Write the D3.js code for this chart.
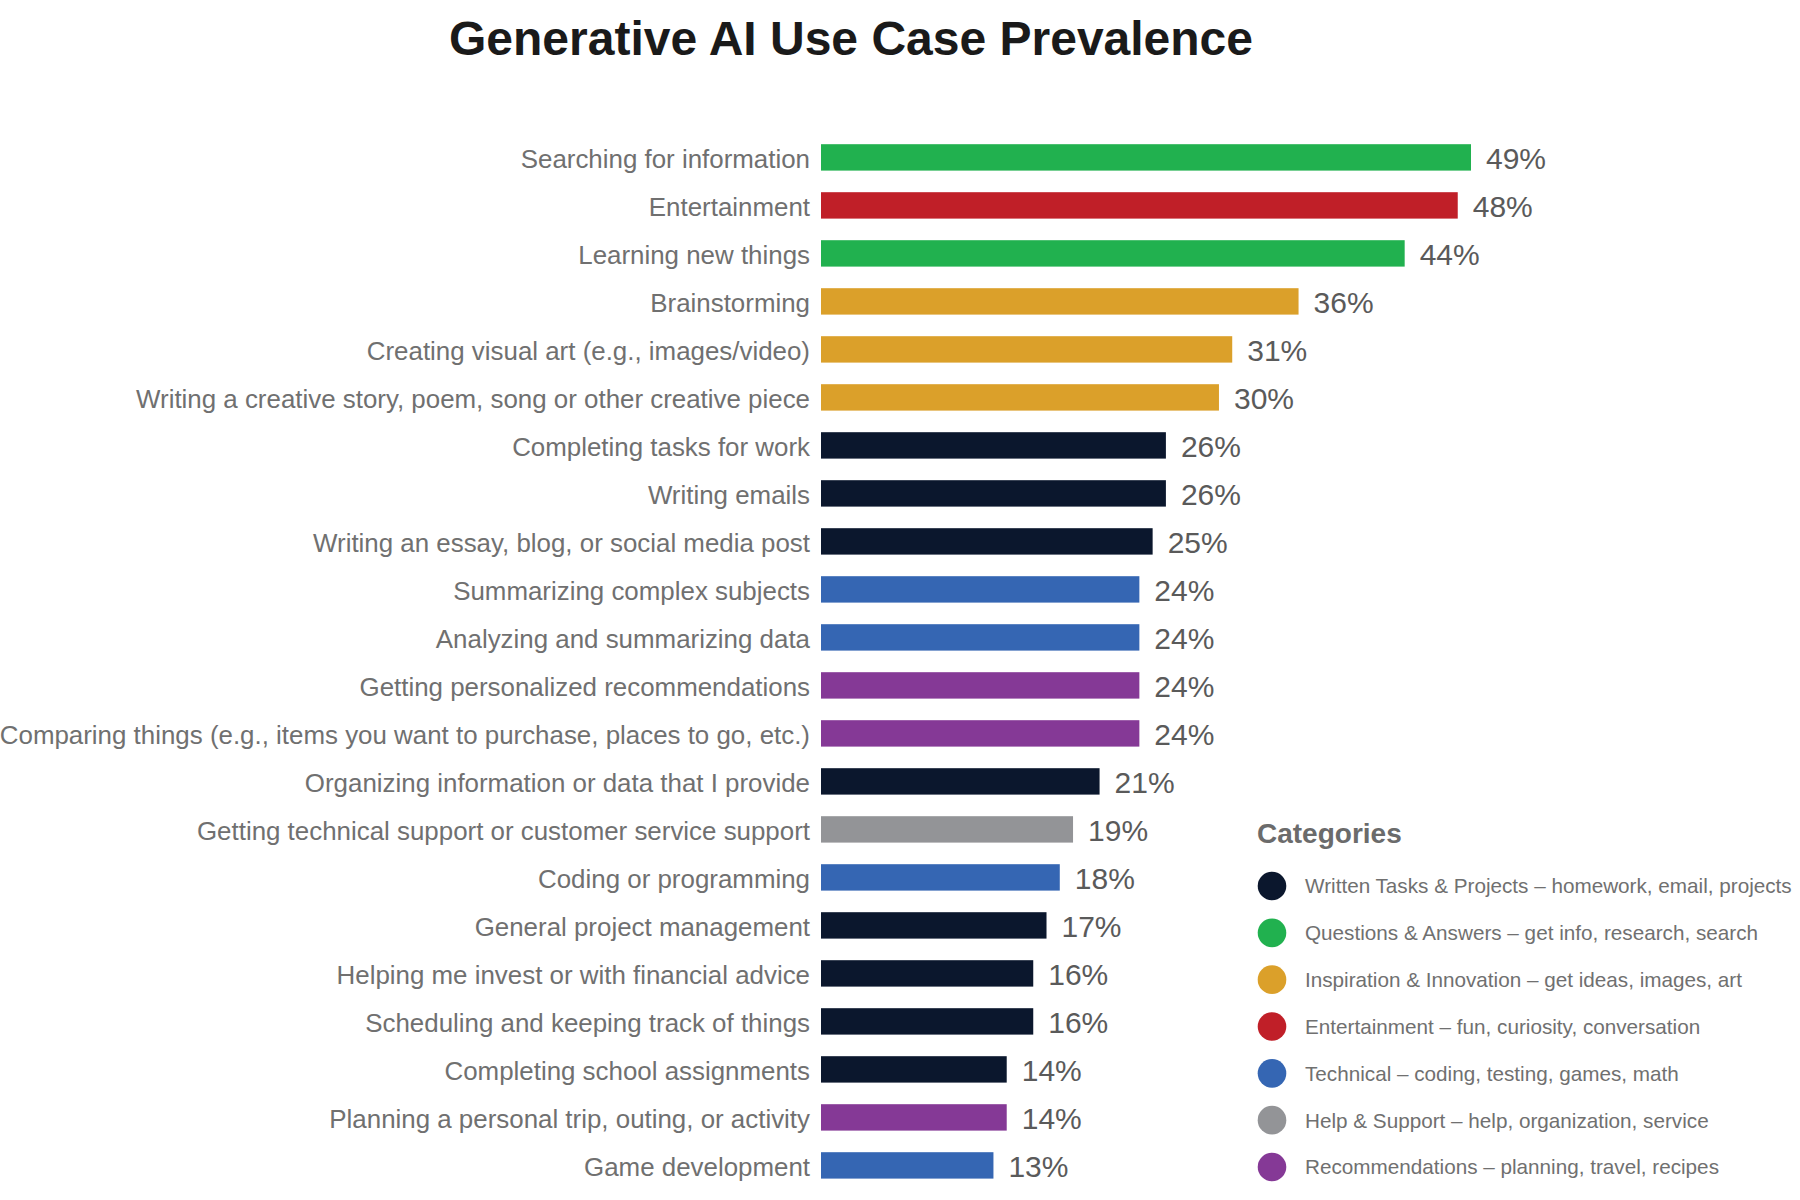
<!DOCTYPE html>
<html>
<head>
<meta charset="utf-8">
<script src="https://cdn.jsdelivr.net/npm/d3@7"></script>
<style>
  body { margin: 0; background: #fff; }
  svg { display: block; font-family: "Liberation Sans", Arial, Helvetica, sans-serif; }
</style>
</head>
<body>
<div id="chart"></div>
<script>
const WIDTH = 1800;
const HEIGHT = 1200;

const useCases = [
  "Searching for information",
  "Entertainment",
  "Learning new things",
  "Brainstorming",
  "Creating visual art (e.g., images/video)",
  "Writing a creative story, poem, song or other creative piece",
  "Completing tasks for work",
  "Writing emails",
  "Writing an essay, blog, or social media post",
  "Summarizing complex subjects",
  "Analyzing and summarizing data",
  "Getting personalized recommendations",
  "Comparing things (e.g., items you want to purchase, places to go, etc.)",
  "Organizing information or data that I provide",
  "Getting technical support or customer service support",
  "Coding or programming",
  "General project management",
  "Helping me invest or with financial advice",
  "Scheduling and keeping track of things",
  "Completing school assignments",
  "Planning a personal trip, outing, or activity",
  "Game development"
];

const shares = [49, 48, 44, 36, 31, 30, 26, 26, 25, 24, 24, 24, 24, 21, 19, 18, 17, 16, 16, 14, 14, 13];

// category index of each use case (into categoryNames)
const useCaseCategory = [1, 3, 1, 2, 2, 2, 0, 0, 0, 4, 4, 6, 6, 0, 5, 4, 0, 0, 0, 0, 6, 4];

const categoryNames = [
  "Written Tasks & Projects \u2013 homework, email, projects",
  "Questions & Answers \u2013 get info, research, search",
  "Inspiration & Innovation \u2013 get ideas, images, art",
  "Entertainment \u2013 fun, curiosity, conversation",
  "Technical \u2013 coding, testing, games, math",
  "Help & Support \u2013 help, organization, service",
  "Recommendations \u2013 planning, travel, recipes"
];

const categoryColors = ["#0b172d", "#21b14f", "#dba02a", "#c01f28", "#3566b3", "#939497", "#853996"];

const data = useCases.map((name, i) => ({ name, value: shares[i], cat: useCaseCategory[i] }));

const svg = d3.select("#chart").append("svg")
  .attr("width", WIDTH)
  .attr("height", HEIGHT);

// title
svg.append("text")
  .attr("x", 851)
  .attr("y", 55)
  .attr("text-anchor", "middle")
  .style("font-size", "48px")
  .style("font-weight", "bold")
  .attr("fill", "#1a1a1a")
  .text("Generative AI Use Case Prevalence");

const BAR_LEFT = 821;

const x = d3.scaleLinear()
  .domain([0, 49])
  .range([0, 650]);

const y = d3.scaleBand()
  .domain(useCases)
  .range([133.4, 1189.4])
  .paddingInner(0.45)
  .paddingOuter(0.225);

const color = d3.scaleOrdinal()
  .domain(d3.range(categoryNames.length))
  .range(categoryColors);

const g = svg.append("g")
  .attr("transform", `translate(${BAR_LEFT},0)`);

// category labels via left axis
const yAxis = d3.axisLeft(y).tickSize(0).tickPadding(11);
const yAxisGroup = g.append("g").call(yAxis);
yAxisGroup.select(".domain").remove();
yAxisGroup.selectAll("text")
  .attr("dy", "0.4em")
  .style("font-size", "25.9px")
  .style("font-family", "'Liberation Sans', Arial, sans-serif")
  .attr("fill", "#707070");

g.selectAll("rect.bar")
  .data(data)
  .enter().append("rect")
    .attr("class", "bar")
    .attr("x", 0)
    .attr("y", d => y(d.name))
    .attr("width", d => x(d.value))
    .attr("height", y.bandwidth())
    .attr("fill", d => color(d.cat));

g.selectAll("text.value")
  .data(data)
  .enter().append("text")
    .attr("class", "value")
    .attr("x", d => x(d.value) + 15)
    .attr("y", d => y(d.name) + y.bandwidth() / 2)
    .attr("dy", "0.4em")
    .style("font-size", "30px")
    .attr("fill", "#5a5a5a")
    .text(d => d.value + "%");

// legend
const legend = svg.append("g");

legend.append("text")
  .attr("x", 1257)
  .attr("y", 843)
  .style("font-size", "28px")
  .style("font-weight", "bold")
  .attr("fill", "#6b6b6b")
  .text("Categories");

const ly = d3.scalePoint()
  .domain(categoryNames)
  .range([886, 1167]);

const items = legend.selectAll("g.item")
  .data(categoryNames)
  .enter().append("g")
    .attr("class", "item")
    .attr("transform", d => `translate(1272,${ly(d)})`);

items.append("circle")
  .attr("r", 14.3)
  .attr("fill", (d, i) => color(i));

items.append("text")
  .attr("x", 33)
  .attr("dy", "0.36em")
  .style("font-size", "20.7px")
  .attr("fill", "#707070")
  .text(d => d);
</script>
</body>
</html>
